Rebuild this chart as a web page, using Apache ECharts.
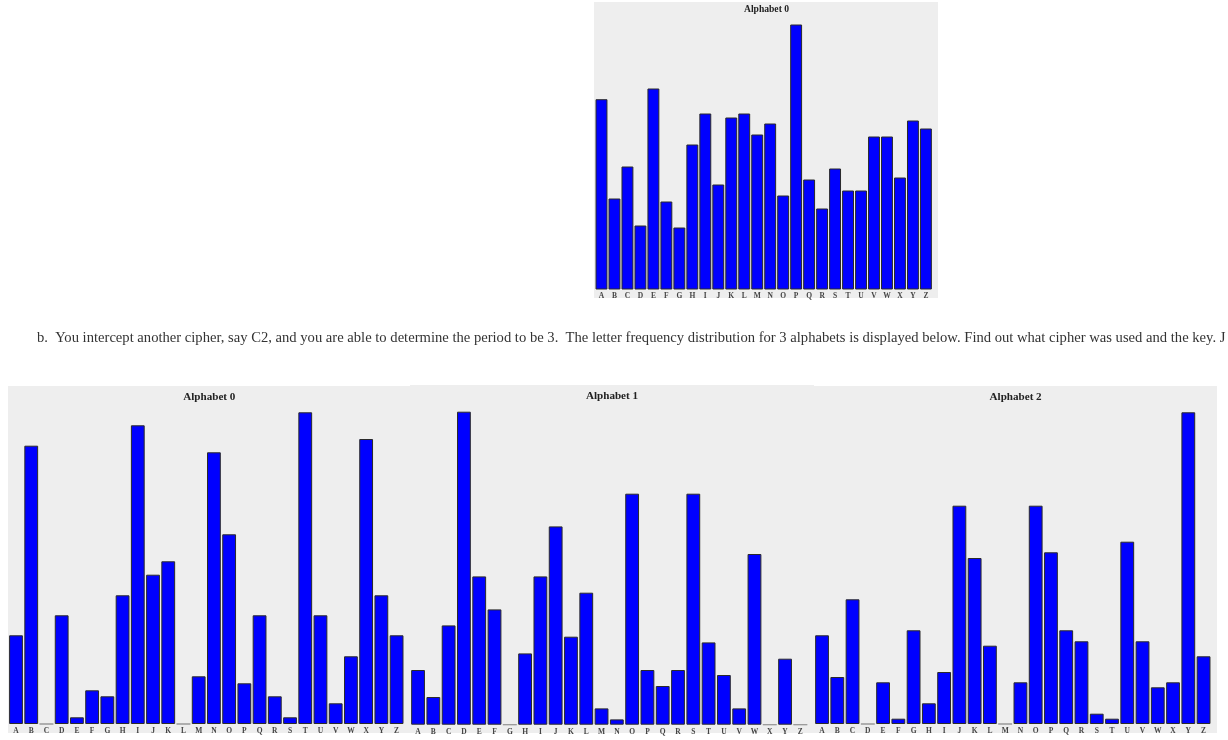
<!DOCTYPE html>
<html><head><meta charset="utf-8">
<style>html,body{margin:0;padding:0;background:#fff}#c{width:1228px;height:740px}</style>
<script src="https://cdn.jsdelivr.net/npm/echarts@6/dist/echarts.min.js"></script>
</head><body><div id="c"></div>
<script>
const letters = "ABCDEFGHIJKLMNOPQRSTUVWXYZ".split("");
const bodyText = "b.  You intercept another cipher, say C2, and you are able to determine the period to be 3.  The letter frequency distribution for 3 alphabets is displayed below. Find out what cipher was used and the key. J";
const titleTop = "Alphabet 0";
const title0 = "Alphabet 0";
const title1 = "Alphabet 1";
const title2 = "Alphabet 2";
const valuesTop = [190.3,91,123,64,201,88,62,145,176,105,172,176,155,166,94,265,110,81,121,99,99,153,153,112,169,161];
const values0 = [88.7,278.3,0,108.7,6.7,33.7,27.7,128.7,298.7,149.3,162.7,0,47.7,271.7,189.7,40.7,108.7,27.7,6.7,311.7,108.7,20.7,67.7,285,128.7,88.7];
const values1 = [54.7,27.7,99.3,313,148.3,115.3,0,71.3,148.3,198.3,88,132,16.3,5.3,231,54.7,38.7,54.7,231,82.3,49.7,16.3,170.7,0,66,0];
const values2 = [88.7,47,124.7,0,41.7,5.3,93.7,20.7,52,218.3,166,78.3,0,41.7,218.3,171.7,93.7,82.7,10.3,5.3,182.3,82.7,36.7,41.7,311.7,67.7];

const layouts = [
  {name:titleTop, data:valuesTop, left:595, width:337.4, base:289.5, h:280, bar:11.9, cx:766.5, ty:5, font:9.6, panel:[594,2,344,296]},
  {name:title0, data:values0, left:8.4, width:395.8, base:724, h:334, bar:13.8, cx:209.3, ty:392, font:11.1, panel:[8,386,402,347]},
  {name:title1, data:values1, left:410.4, width:397.6, base:724.7, h:334, bar:13.8, cx:612, ty:391, font:11.1, panel:[410,385,404,348]},
  {name:title2, data:values2, left:814.4, width:396.8, base:724, h:334, bar:13.8, cx:1015.6, ty:391.5, font:11.1, panel:[814,386,403,347]}
];

const option = {
  animation:false,
  backgroundColor:"#fff",
  graphic:layouts.map(l=>({type:"rect",z:-10,silent:true,shape:{x:l.panel[0],y:l.panel[1],width:l.panel[2],height:l.panel[3]},style:{fill:"#eeeeee"}})),
  title:[
    {text:bodyText,left:37,top:331,padding:0,textStyle:{fontFamily:"Liberation Serif",fontSize:14.62,fontWeight:"normal",color:"#333"}},
    ...layouts.map(l=>({text:l.name,left:l.cx,top:l.ty,padding:0,textAlign:"center",textStyle:{fontFamily:"Liberation Serif",fontSize:l.font,fontWeight:"bold",color:"#222"}}))
  ],
  grid:layouts.map(l=>({left:l.left,width:l.width,top:l.base-l.h,height:l.h,containLabel:false})),
  xAxis:layouts.map((l,i)=>({type:"category",gridIndex:i,data:letters,
    axisLine:{show:false},axisTick:{show:false},
    axisLabel:{interval:0,margin:i===0?3:3.5,fontFamily:"Liberation Serif",fontSize:7.5,fontWeight:"bold",color:"#444"}})),
  yAxis:layouts.map((l,i)=>({type:"value",gridIndex:i,min:0,max:l.h,show:false,splitLine:{show:false}})),
  series:layouts.map((l,i)=>({type:"bar",xAxisIndex:i,yAxisIndex:i,barWidth:l.bar,
    data:l.data.map(v=>v===0?{value:v,itemStyle:{borderColor:"#999"}}:v),
    itemStyle:{color:"#0000ff",borderColor:"#2a2a2a",borderWidth:1}}))
};
echarts.init(document.getElementById("c"),null,{renderer:"canvas"}).setOption(option);
</script></body></html>
